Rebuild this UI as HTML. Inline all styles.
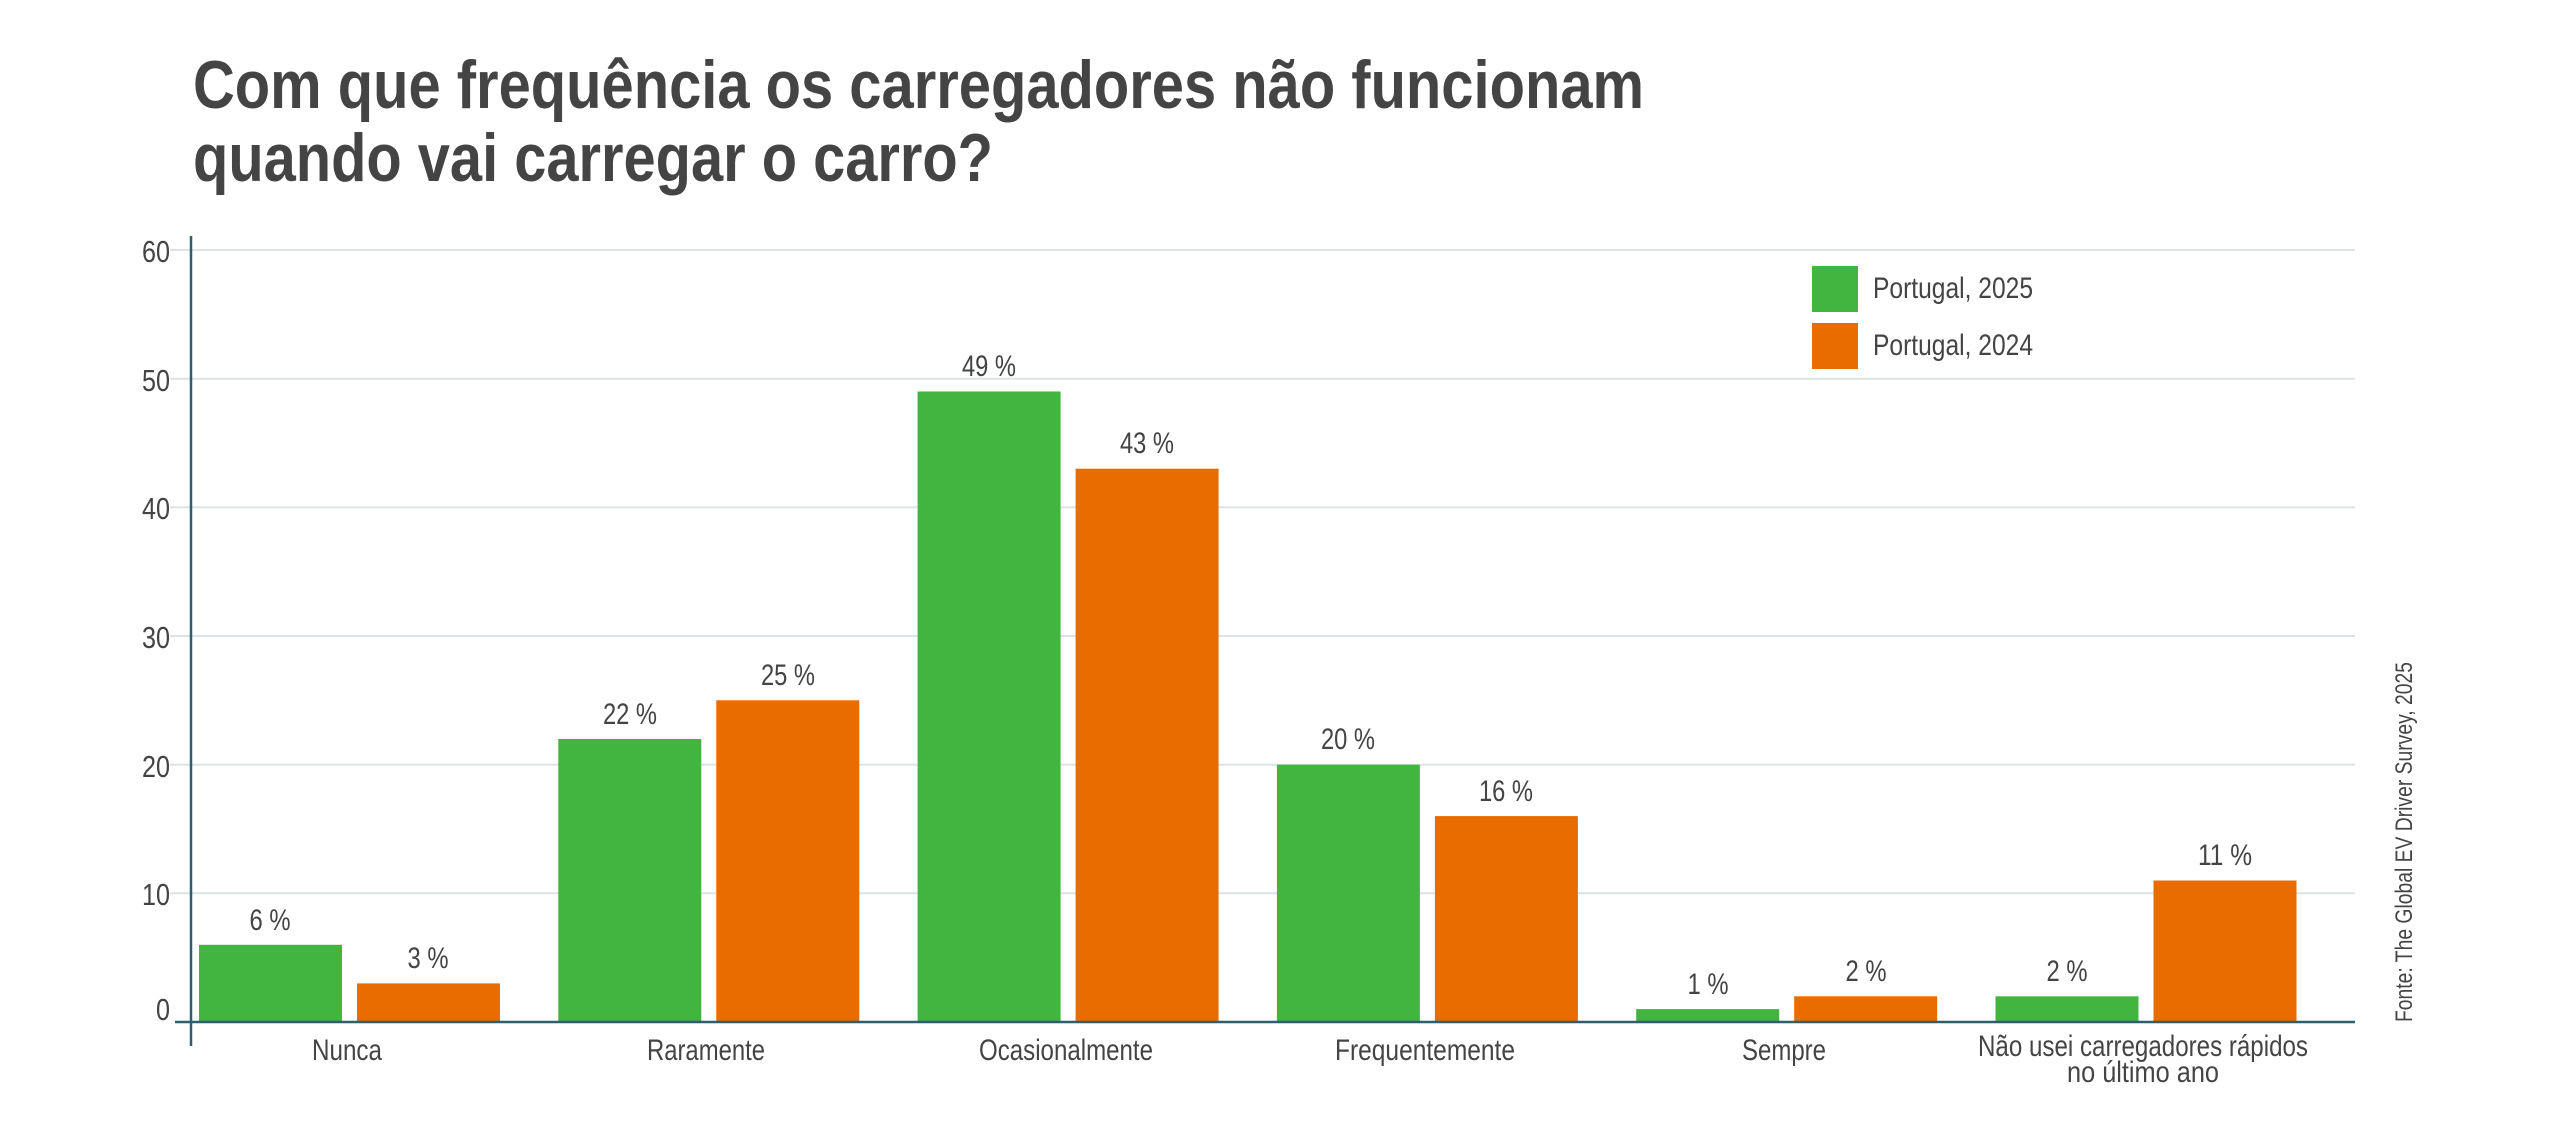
<!DOCTYPE html>
<html><head><meta charset="utf-8"><style>
html,body{margin:0;padding:0;background:#fff;width:2560px;height:1121px;overflow:hidden}
svg{display:block}
text{font-family:"Liberation Sans",sans-serif;fill:#444}
</style></head><body>
<svg width="2560" height="1121" viewBox="0 0 2560 1121" xmlns="http://www.w3.org/2000/svg">
<text x="193" y="108" font-size="68" font-weight="bold" textLength="1451" lengthAdjust="spacingAndGlyphs">Com que frequência os carregadores não funcionam</text>
<text x="193" y="181" font-size="68" font-weight="bold" textLength="800" lengthAdjust="spacingAndGlyphs">quando vai carregar o carro?</text>
<g stroke="#dde3e5" stroke-width="2">
<line x1="170" y1="250" x2="2355" y2="250"/>
<line x1="170" y1="378.7" x2="2355" y2="378.7"/>
<line x1="170" y1="507.3" x2="2355" y2="507.3"/>
<line x1="170" y1="636" x2="2355" y2="636"/>
<line x1="170" y1="764.7" x2="2355" y2="764.7"/>
<line x1="170" y1="893.3" x2="2355" y2="893.3"/>
</g>
<g font-size="31" text-anchor="end" lengthAdjust="spacingAndGlyphs">
<text x="170" y="262" textLength="28" lengthAdjust="spacingAndGlyphs">60</text><text x="170" y="391" textLength="28" lengthAdjust="spacingAndGlyphs">50</text><text x="170" y="519" textLength="28" lengthAdjust="spacingAndGlyphs">40</text>
<text x="170" y="648" textLength="28" lengthAdjust="spacingAndGlyphs">30</text><text x="170" y="777" textLength="28" lengthAdjust="spacingAndGlyphs">20</text><text x="170" y="905" textLength="28" lengthAdjust="spacingAndGlyphs">10</text><text x="170" y="1020" textLength="14" lengthAdjust="spacingAndGlyphs">0</text>
</g>
<g fill="#41b53f">
<rect x="199" y="944.8" width="143" height="77.2"/>
<rect x="558.3" y="739" width="143" height="283"/>
<rect x="917.6" y="391.5" width="143" height="630.5"/>
<rect x="1276.9" y="764.7" width="143" height="257.3"/>
<rect x="1636.2" y="1009.1" width="143" height="12.9"/>
<rect x="1995.5" y="996.3" width="143" height="25.7"/>
</g>
<g fill="#e96c00">
<rect x="357" y="983.4" width="143" height="38.6"/>
<rect x="716.3" y="700.3" width="143" height="321.7"/>
<rect x="1075.6" y="468.7" width="143" height="553.3"/>
<rect x="1434.9" y="816.1" width="143" height="205.9"/>
<rect x="1794.2" y="996.3" width="143" height="25.7"/>
<rect x="2153.5" y="880.5" width="143" height="141.5"/>
</g>
<g font-size="30" text-anchor="middle">
<text x="270" y="930" textLength="41" lengthAdjust="spacingAndGlyphs">6 %</text><text x="428" y="968" textLength="41" lengthAdjust="spacingAndGlyphs">3 %</text>
<text x="630" y="724" textLength="54" lengthAdjust="spacingAndGlyphs">22 %</text><text x="788" y="685" textLength="54" lengthAdjust="spacingAndGlyphs">25 %</text>
<text x="989" y="376" textLength="54" lengthAdjust="spacingAndGlyphs">49 %</text><text x="1147" y="453" textLength="54" lengthAdjust="spacingAndGlyphs">43 %</text>
<text x="1348" y="749" textLength="54" lengthAdjust="spacingAndGlyphs">20 %</text><text x="1506" y="801" textLength="54" lengthAdjust="spacingAndGlyphs">16 %</text>
<text x="1708" y="994" textLength="41" lengthAdjust="spacingAndGlyphs">1 %</text><text x="1866" y="981" textLength="41" lengthAdjust="spacingAndGlyphs">2 %</text>
<text x="2067" y="981" textLength="41" lengthAdjust="spacingAndGlyphs">2 %</text><text x="2225" y="865" textLength="54" lengthAdjust="spacingAndGlyphs">11 %</text>
</g>
<line x1="175" y1="1022" x2="2355" y2="1022" stroke="#2f5f6a" stroke-width="2.5"/>
<line x1="191" y1="236" x2="191" y2="1046" stroke="#2f5f6a" stroke-width="2.5"/>
<g font-size="30" text-anchor="middle">
<text x="347" y="1060" textLength="70" lengthAdjust="spacingAndGlyphs">Nunca</text>
<text x="706" y="1060" textLength="118" lengthAdjust="spacingAndGlyphs">Raramente</text>
<text x="1066" y="1060" textLength="174" lengthAdjust="spacingAndGlyphs">Ocasionalmente</text>
<text x="1425" y="1060" textLength="180" lengthAdjust="spacingAndGlyphs">Frequentemente</text>
<text x="1784" y="1060" textLength="84" lengthAdjust="spacingAndGlyphs">Sempre</text>
<text x="2143" y="1056" textLength="330" lengthAdjust="spacingAndGlyphs">Não usei carregadores rápidos</text>
<text x="2143" y="1082" textLength="152" lengthAdjust="spacingAndGlyphs">no último ano</text>
</g>
<rect x="1812" y="266" width="46" height="46" fill="#41b53f"/>
<rect x="1812" y="323" width="46" height="46" fill="#e96c00"/>
<text x="1873" y="298" font-size="30" textLength="160" lengthAdjust="spacingAndGlyphs">Portugal, 2025</text>
<text x="1873" y="355" font-size="30" textLength="160" lengthAdjust="spacingAndGlyphs">Portugal, 2024</text>
<text transform="translate(2412,1022) rotate(-90)" font-size="24" textLength="360" lengthAdjust="spacingAndGlyphs">Fonte: The Global EV Driver Survey, 2025</text>
</svg>
</body></html>
